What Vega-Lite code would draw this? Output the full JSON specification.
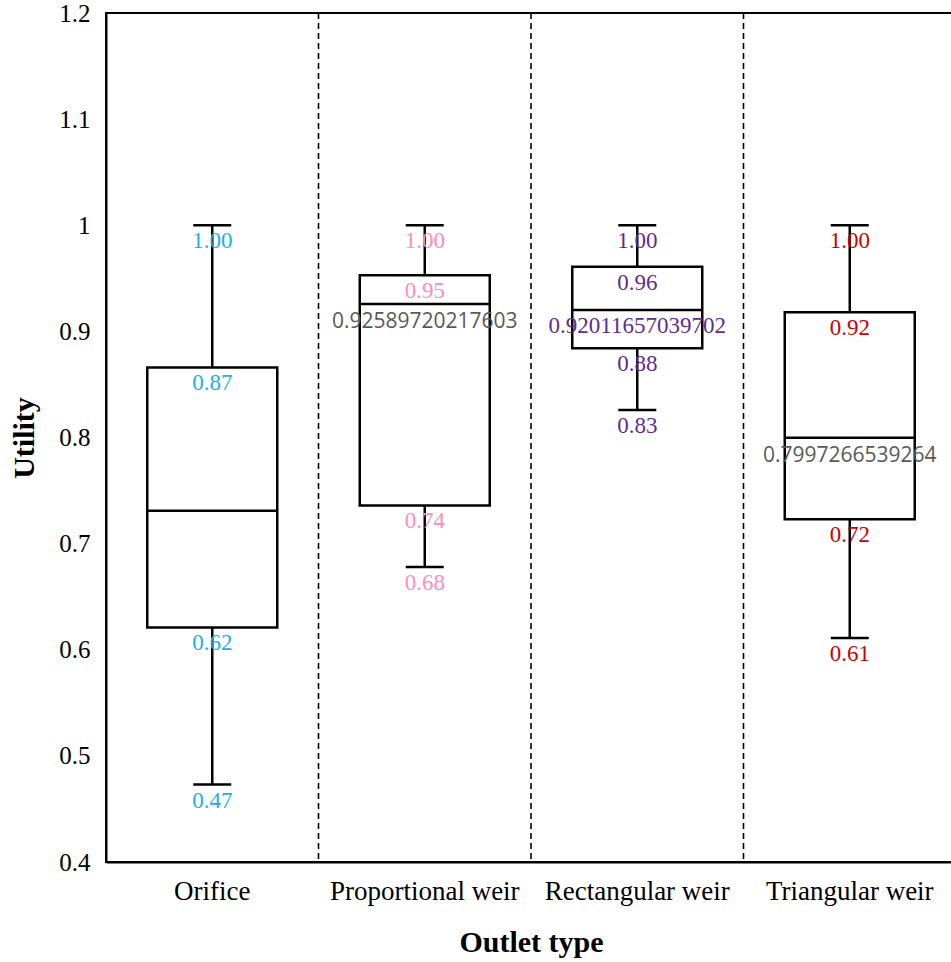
{
  "$schema": "https://vega.github.io/schema/vega-lite/v6.json",
  "autosize": "none",
  "width": 850,
  "height": 849,
  "padding": {"left": 106, "top": 13, "right": 0, "bottom": 100},
  "background": "white",
  "config": {
    "view": {"stroke": "black", "strokeWidth": 2},
    "axis": {
      "domainColor": "black",
      "domainWidth": 2,
      "ticks": false,
      "grid": false,
      "labelFont": "Liberation Serif",
      "labelFontSize": 25,
      "labelColor": "black",
      "titleFont": "Liberation Serif",
      "titleFontSize": 30,
      "titleFontWeight": "bold",
      "titleColor": "black"
    }
  },
  "data": {
    "values": [
      {"outlet": "Orifice", "min": 0.473, "q1": 0.621, "median": 0.731, "q3": 0.866, "max": 1.0},
      {"outlet": "Proportional weir", "min": 0.678, "q1": 0.736, "median": 0.92589720217603, "q3": 0.953, "max": 1.0},
      {"outlet": "Rectangular weir", "min": 0.826, "q1": 0.884, "median": 0.92011657039702, "q3": 0.961, "max": 1.0},
      {"outlet": "Triangular weir", "min": 0.611, "q1": 0.723, "median": 0.7997266539264, "q3": 0.918, "max": 1.0}
    ]
  },
  "encoding": {
    "x": {
      "field": "outlet",
      "type": "nominal",
      "sort": ["Orifice", "Proportional weir", "Rectangular weir", "Triangular weir"],
      "scale": {"paddingInner": 0, "paddingOuter": 0},
      "axis": {"title": "Outlet type", "labelAngle": 0, "labelPadding": 16, "titlePadding": 23, "labelFont": "Liberation Serif", "labelFontSize": 27, "labelLimit": 0, "labelOverlap": false}
    }
  },
  "layer": [
    {
      "transform": [{"filter": "datum.outlet !== 'Orifice'"}],
      "mark": {"type": "rule", "color": "black", "strokeWidth": 1.6, "strokeDash": [6, 4]},
      "encoding": {
        "x": {"field": "outlet", "type": "nominal", "sort": ["Orifice", "Proportional weir", "Rectangular weir", "Triangular weir"], "bandPosition": 0}
      }
    },
    {
      "mark": {"type": "rule", "color": "black", "strokeWidth": 2.5},
      "encoding": {
        "y": {
          "field": "min",
          "type": "quantitative",
          "scale": {"domain": [0.4, 1.2], "nice": false, "zero": false},
          "axis": {
            "title": "Utility",
            "values": [0.4, 0.5, 0.6, 0.7, 0.8, 0.9, 1.0, 1.1, 1.2],
            "format": ".1~f",
            "labelPadding": 16,
            "titlePadding": 19,
            "labelFont": "Liberation Serif"
          }
        },
        "y2": {"field": "q1"}
      }
    },
    {
      "mark": {"type": "rule", "color": "black", "strokeWidth": 2.5},
      "encoding": {
        "y": {"field": "q3", "type": "quantitative"},
        "y2": {"field": "max"}
      }
    },
    {
      "mark": {"type": "bar", "fill": "white", "stroke": "black", "strokeWidth": 2.5, "size": 130, "opacity": 1},
      "encoding": {
        "y": {"field": "q1", "type": "quantitative"},
        "y2": {"field": "q3"}
      }
    },
    {
      "mark": {"type": "tick", "color": "black", "opacity": 1, "thickness": 2.5, "size": 130},
      "encoding": {"y": {"field": "median", "type": "quantitative"}}
    },
    {
      "mark": {"type": "tick", "color": "black", "opacity": 1, "thickness": 2.5, "size": 38},
      "encoding": {"y": {"field": "min", "type": "quantitative"}}
    },
    {
      "mark": {"type": "tick", "color": "black", "opacity": 1, "thickness": 2.5, "size": 38},
      "encoding": {"y": {"field": "max", "type": "quantitative"}}
    },
    {
      "transform": [{"fold": ["min", "q1", "q3", "max"], "as": ["stat", "value"]}],
      "mark": {"type": "text", "font": "Liberation Serif", "fontSize": 23, "baseline": "alphabetic", "align": "center", "dy": 23},
      "encoding": {
        "y": {"field": "value", "type": "quantitative"},
        "text": {"field": "value", "type": "quantitative", "format": ".2f"},
        "color": {
          "field": "outlet",
          "type": "nominal",
          "legend": null,
          "scale": {
            "domain": ["Orifice", "Proportional weir", "Rectangular weir", "Triangular weir"],
            "range": ["#1AAFEA", "#FF8AC4", "#5E2D8E", "#CC0000"]
          }
        }
      }
    },
    {
      "transform": [{"filter": "datum.outlet === 'Proportional weir' || datum.outlet === 'Triangular weir'"}],
      "mark": {"type": "text", "font": "Open Sans", "fontSize": 21, "color": "#595959", "baseline": "alphabetic", "align": "center", "dy": 24},
      "encoding": {
        "y": {"field": "median", "type": "quantitative"},
        "text": {"field": "median", "type": "nominal"}
      }
    },
    {
      "transform": [{"filter": "datum.outlet === 'Rectangular weir'"}],
      "mark": {"type": "text", "font": "Liberation Serif", "fontSize": 23, "color": "#5E2D8E", "baseline": "alphabetic", "align": "center", "dy": 23},
      "encoding": {
        "y": {"field": "median", "type": "quantitative"},
        "text": {"field": "median", "type": "nominal"}
      }
    }
  ]
}
